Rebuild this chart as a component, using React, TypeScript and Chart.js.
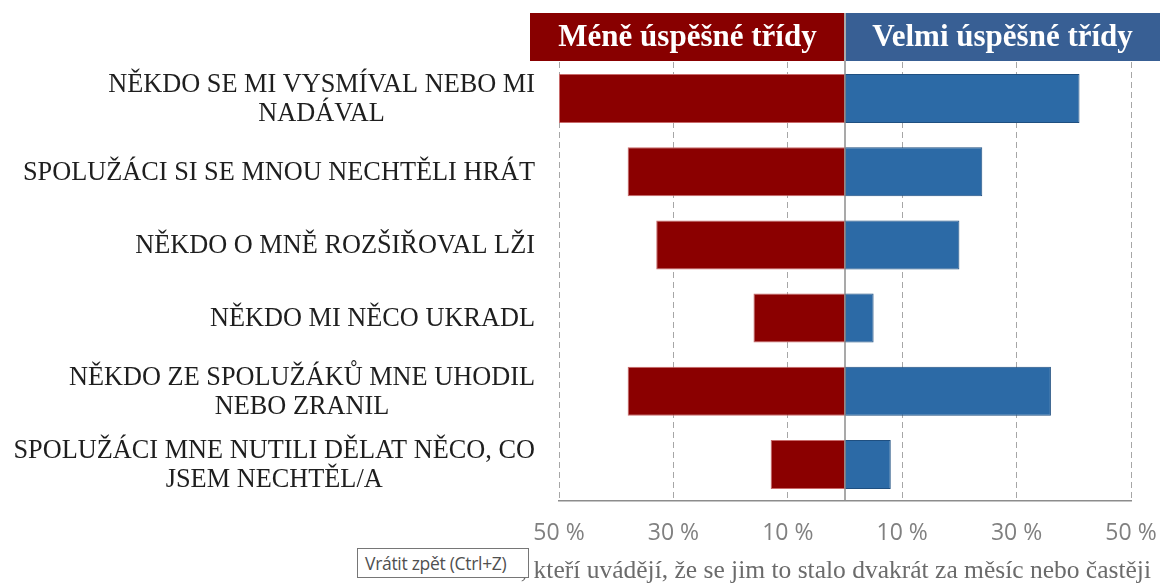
import React, { useEffect, useRef } from "react";
import { Chart, registerables } from "chart.js";

Chart.register(...registerables);

const categories: string[][] = [
  ["NĚKDO SE MI VYSMÍVAL NEBO MI", "NADÁVAL"],
  ["SPOLUŽÁCI SI SE MNOU NECHTĚLI HRÁT"],
  ["NĚKDO O MNĚ ROZŠIŘOVAL LŽI"],
  ["NĚKDO MI NĚCO UKRADL"],
  ["NĚKDO ZE SPOLUŽÁKŮ MNE UHODIL", "NEBO ZRANIL"],
  ["SPOLUŽÁCI MNE NUTILI DĚLAT NĚCO, CO", "JSEM NECHTĚL/A"],
];
const lessSuccessful = [50, 38, 33, 16, 38, 13];
const verySuccessful = [41, 24, 20, 5, 36, 8];
const tickValues = [-50, -30, -10, 10, 30, 50];
const seriesNames = ["Méně úspěšné třídy", "Velmi úspěšné třídy"];
const axisTitle =
  "Podíl žáků, kteří uvádějí, že se jim to stalo dvakrát za měsíc nebo častěji";
const tooltipText = "Vrátit zpět (Ctrl+Z)";

const SERIF = "'Liberation Serif', 'Times New Roman', serif";
const RED = "#8b0000";
const RED_HEADER = "#880000";
const BLUE = "#2c6aa6";
const BLUE_HEADER = "#385f94";

const decorPlugin = {
  id: "decor",
  afterDraw(chart: any) {
    const { ctx, chartArea, scales } = chart;
    const xs = scales.x;
    const ys = scales.y;
    const x0 = xs.getPixelForValue(0);
    const top = 13;
    const bottom = chartArea.top - 1;
    ctx.save();
    // header boxes
    ctx.fillStyle = RED_HEADER;
    ctx.fillRect(530, top, x0 - 1 - 530, bottom - top);
    ctx.fillStyle = BLUE_HEADER;
    ctx.fillRect(x0 + 1, top, chart.width - x0 - 1, bottom - top);
    ctx.font = `bold 31px ${SERIF}`;
    ctx.textAlign = "center";
    ctx.textBaseline = "middle";
    ctx.fillStyle = "#ffffff";
    ctx.fillText(seriesNames[0], (530 + x0) / 2, (top + bottom) / 2 + 1);
    ctx.fillText(seriesNames[1], (x0 + chart.width) / 2, (top + bottom) / 2 + 1);
    // zero line
    ctx.strokeStyle = "#8c8c8c";
    ctx.lineWidth = 1.5;
    ctx.beginPath();
    ctx.moveTo(x0, top);
    ctx.lineTo(x0, chartArea.bottom);
    ctx.stroke();
    // category labels
    ctx.font = `26.3px ${SERIF}`;
    ctx.fillStyle = "#1e1e1e";
    const right = chartArea.left - 24;
    const lh = 29;
    categories.forEach((lines, i) => {
      const cy = ys.getPixelForValue(i);
      const w = Math.max(...lines.map((l) => ctx.measureText(l).width));
      const cx = right - w / 2;
      lines.forEach((l, j) => {
        ctx.fillText(l, cx, cy + (j - (lines.length - 1) / 2) * lh + 1);
      });
    });
    // axis title
    ctx.font = `25.5px ${SERIF}`;
    ctx.fillStyle = "#6b6b6b";
    ctx.textAlign = "right";
    ctx.fillText(axisTitle, 1151, 571);
    ctx.restore();
  },
};

export default function App() {
  const ref = useRef<HTMLCanvasElement | null>(null);
  useEffect(() => {
    if (!ref.current) return;
    const chart = new Chart(ref.current, {
      type: "bar",
      data: {
        labels: categories.map((c) => c.join(" ")),
        datasets: [
          {
            label: seriesNames[0],
            data: lessSuccessful.map((v) => -v),
            backgroundColor: RED,
            borderColor: "#c86a6a",
            borderWidth: 1,
            borderSkipped: false,
            barPercentage: 0.67,
            categoryPercentage: 1,
          },
          {
            label: seriesNames[1],
            data: verySuccessful,
            backgroundColor: BLUE,
            borderColor: "#1f4f80",
            borderWidth: 1,
            borderSkipped: false,
            barPercentage: 0.67,
            categoryPercentage: 1,
          },
        ],
      },
      options: {
        animation: false,
        responsive: false,
        indexAxis: "y",
        layout: { padding: { top: 62, right: 29, left: 0, bottom: 0 } },
        plugins: {
          legend: { display: false },
          tooltip: { enabled: false },
          title: { display: false },
        },
        scales: {
          x: {
            type: "linear",
            min: -50,
            max: 50,
            stacked: true,
            afterBuildTicks: (s: any) => {
              s.ticks = tickValues.map((v) => ({ value: v }));
            },
            afterFit: (s: any) => {
              s.height = 83;
              s.paddingLeft = 0;
              s.paddingRight = 0;
            },
            ticks: {
              callback: (v: any) => Math.abs(Number(v)) + " %",
              font: { family: "'Open Sans', sans-serif", size: 23 },
              color: "#808080",
              padding: 19,
              maxRotation: 0,
              autoSkip: false,
            },
            grid: { color: "#a6a6a6", lineWidth: 1, drawTicks: false },
            border: { display: true, color: "#8c8c8c", width: 1.5, dash: [6, 4] },
          },
          y: {
            stacked: true,
            grid: { display: false },
            border: { display: false },
            ticks: { display: false },
            afterFit: (s: any) => {
              s.width = 559;
            },
          },
        },
      },
      plugins: [decorPlugin],
    } as any);
    return () => chart.destroy();
  }, []);

  return (
    <div style={{ position: "absolute", left: 0, top: 0, width: 1160, height: 584, background: "#fff" }}>
      <canvas ref={ref} width={1160} height={584} style={{ display: "block" }} />
      <div
        style={{
          position: "absolute",
          left: 357,
          top: 548,
          width: 172,
          height: 30,
          boxSizing: "border-box",
          border: "1px solid #767676",
          background: "#ffffff",
          color: "#505050",
          font: "17.5px 'Open Sans', sans-serif",
          lineHeight: "28px",
          paddingLeft: 7,
          whiteSpace: "nowrap",
          letterSpacing: "-0.3px",
        }}
      >
        {tooltipText}
      </div>
    </div>
  );
}
